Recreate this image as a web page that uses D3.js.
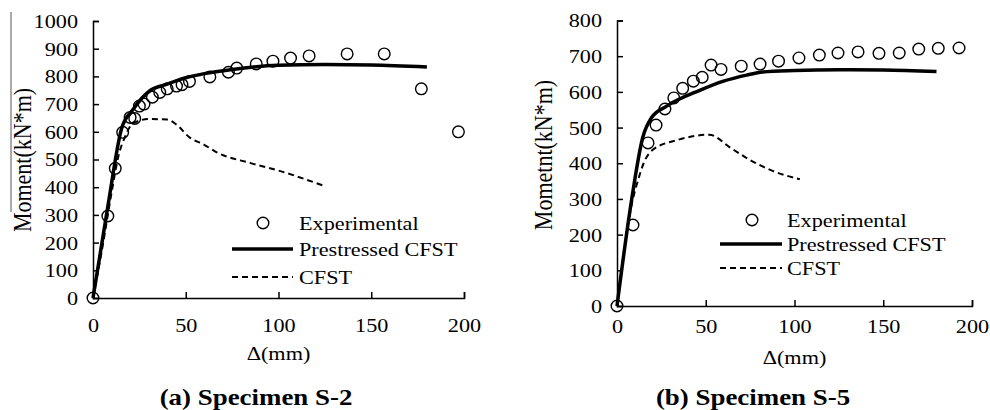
<!DOCTYPE html>
<html>
<head>
<meta charset="utf-8">
<script src="https://cdn.jsdelivr.net/npm/d3@7"></script>
<style>
  body { margin: 0; background: #fff; }
  text { font-family: "Liberation Serif", "Times New Roman", serif; fill: #000; }
</style>
</head>
<body>
<svg id="fig" width="990" height="410"></svg>
<script>
// ---- data (a) Specimen S-2
const expA_x = [0, 8, 12, 16, 20, 22.5, 25, 27.5, 32, 36, 40, 45, 48, 52, 63, 73, 77.5, 88, 97, 106.5, 116.5, 137, 157, 177, 197];
const expA_y = [0, 296, 468, 598, 652, 648, 693, 700, 725, 742, 755, 765, 770, 782, 798, 815, 830, 845, 855, 866, 874, 881, 881, 755, 600];
const preA_x = [0, 8, 15.5, 21.5, 31, 40, 50, 60, 75, 100, 125, 150, 180];
const preA_y = [0, 330, 614, 680, 750, 772, 795, 810, 825, 840, 843, 841, 834];
const cfstA_x = [0, 5, 10, 14, 17, 21.5, 30, 40, 45, 52, 60, 67, 85, 100, 124];
const cfstA_y = [0, 180, 380, 520, 578, 630, 646, 644, 626, 580, 553, 525, 487, 460, 406];

// ---- data (b) Specimen S-5
const expB_x = [0, 9, 17.5, 22, 27, 32, 37, 43, 48, 53, 58.6, 70, 80.6, 91, 102.5, 114, 124.5, 135.8, 147.6, 159, 170, 181, 192.7];
const expB_y = [0, 227, 457, 507, 552, 583, 610, 630, 641, 675, 663, 672, 678, 686, 695, 703, 709, 712, 708, 709, 720, 722, 723];
const preB_x = [0, 8, 14.5, 19.5, 28, 47, 60, 73, 82, 100, 125, 150, 180];
const preB_y = [0, 290, 472, 528, 560, 605, 630, 647, 656, 660, 662, 661, 657];
const cfstB_x = [0, 8.5, 12, 15, 20, 34, 52, 64, 75, 88, 103];
const cfstB_y = [0, 290, 355, 400, 437, 465, 480, 443, 409, 378, 355];

const xTicks = [0, 50, 100, 150, 200];
const yTicksA = [0, 100, 200, 300, 400, 500, 600, 700, 800, 900, 1000];
const yTicksB = [0, 100, 200, 300, 400, 500, 600, 700, 800];

const legendLabels = ["Experimental", "Prestressed CFST", "CFST"];

const svg = d3.select('#fig');
const stretch = 'scale(1.17,1)';

function zip(xs, ys) {
  return xs.map((x, i) => [x, ys[i]]);
}

function drawPanel(cfg) {
  const g = svg.append('g');

  const x = d3.scaleLinear().domain([0, 200]).range([cfg.x0, cfg.x1]);
  const y = d3.scaleLinear().domain([0, cfg.yMax]).range([cfg.y0, cfg.y1]);

  // axes, ticks point inward
  const xAxis = g.append('g')
      .attr('transform', 'translate(0,' + cfg.y0 + ')')
      .call(d3.axisBottom(x).tickValues(xTicks).tickSizeInner(-6).tickSizeOuter(-6).tickFormat(d3.format('d')));
  xAxis.selectAll('text')
      .attr('y', 0).attr('dy', null)
      .attr('transform', 'translate(0,' + cfg.xLabOff + ') ' + stretch)
      .style('font-size', '19px');

  const yAxis = g.append('g')
      .attr('transform', 'translate(' + cfg.x0 + ',0)')
      .call(d3.axisLeft(y).tickValues(cfg.yTicks).tickSizeInner(-6).tickSizeOuter(-6).tickFormat(d3.format('d')));
  yAxis.selectAll('text')
      .attr('x', 0).attr('dy', '0.34em')
      .attr('transform', 'translate(-15,0) ' + stretch)
      .style('font-size', '19px');

  g.selectAll('.domain, .tick line').attr('stroke', '#000').attr('stroke-width', 1.5);

  const line = d3.line()
      .x(d => x(d[0]))
      .y(d => y(d[1]))
      .curve(d3.curveMonotoneX);

  g.append('path')
      .datum(zip(cfg.cfstX, cfg.cfstY))
      .attr('d', line)
      .attr('fill', 'none')
      .attr('stroke', '#000')
      .attr('stroke-width', 2)
      .attr('stroke-dasharray', '6,4');

  g.append('path')
      .datum(zip(cfg.preX, cfg.preY))
      .attr('d', line)
      .attr('fill', 'none')
      .attr('stroke', '#000')
      .attr('stroke-width', 3.5)
      .attr('stroke-linejoin', 'round');

  g.selectAll('circle.exp')
      .data(zip(cfg.expX, cfg.expY))
      .enter()
      .append('circle')
      .attr('class', 'exp')
      .attr('cx', d => x(d[0]))
      .attr('cy', d => y(d[1]))
      .attr('r', 5.8)
      .attr('fill', 'none')
      .attr('stroke', '#000')
      .attr('stroke-width', 1.4);

  // legend
  const L = cfg.legend;
  g.append('circle')
      .attr('cx', L.cx).attr('cy', L.rows[0])
      .attr('r', 5.8).attr('fill', 'none').attr('stroke', '#000').attr('stroke-width', 1.4);
  g.append('line')
      .attr('x1', L.lx0).attr('x2', L.lx1).attr('y1', L.rows[1]).attr('y2', L.rows[1])
      .attr('stroke', '#000').attr('stroke-width', 3.5);
  g.append('line')
      .attr('x1', L.lx0).attr('x2', L.lx1).attr('y1', L.rows[2]).attr('y2', L.rows[2])
      .attr('stroke', '#000').attr('stroke-width', 2).attr('stroke-dasharray', '6,4');
  legendLabels.forEach(function(lab, i) {
    g.append('text')
        .attr('transform', 'translate(' + L.tx + ',' + (L.rows[i] + 7) + ') ' + stretch)
        .style('font-size', '19px')
        .text(lab);
  });

  // axis titles
  g.append('text')
      .attr('transform', 'translate(' + ((cfg.x0 + cfg.x1) / 2) + ',' + cfg.dBase + ') ' + stretch)
      .attr('text-anchor', 'middle')
      .style('font-size', '19px')
      .text('Δ(mm)');

  g.append('text')
      .attr('transform', 'translate(' + cfg.yLabX + ',' + cfg.yLabY + ') ' + stretch + ' rotate(-90)')
      .attr('text-anchor', 'middle')
      .style('font-size', '22px')
      .text(cfg.yLabel);

  g.append('text')
      .attr('transform', 'translate(' + cfg.titleX + ',405) ' + stretch)
      .attr('text-anchor', 'middle')
      .style('font-size', '23px')
      .style('font-weight', 'bold')
      .text(cfg.title);
}

drawPanel({
  x0: 93, x1: 464, y0: 298, y1: 21, yMax: 1000, yTicks: yTicksA, xLabOff: 34,
  expX: expA_x, expY: expA_y, preX: preA_x, preY: preA_y, cfstX: cfstA_x, cfstY: cfstA_y,
  legend: {cx: 263, lx0: 232, lx1: 293, tx: 299, rows: [223, 249, 277]},
  dBase: 360, yLabX: 31, yLabY: 160, yLabel: 'Moment(kN*m)',
  titleX: 256, title: '(a) Specimen S-2'
});

drawPanel({
  x0: 617, x1: 972, y0: 306, y1: 20.5, yMax: 800, yTicks: yTicksB, xLabOff: 27,
  expX: expB_x, expY: expB_y, preX: preB_x, preY: preB_y, cfstX: cfstB_x, cfstY: cfstB_y,
  legend: {cx: 752, lx0: 720, lx1: 782, tx: 787, rows: [220, 244, 268]},
  dBase: 364, yLabX: 552, yLabY: 155, yLabel: 'Mometnt(kN*m)',
  titleX: 753, title: '(b) Specimen S-5'
});

// stray vertical rule beside the left y title
svg.append('line')
    .attr('x1', 11).attr('x2', 11).attr('y1', 12).attr('y2', 212)
    .attr('stroke', '#555').attr('stroke-width', 1);
</script>
</body>
</html>
